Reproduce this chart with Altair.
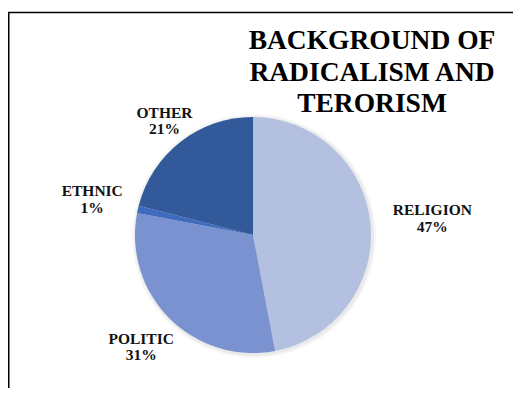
import altair as alt
import pandas as pd

categories = ["RELIGION", "POLITIC", "ETHNIC", "OTHER"]
percents = [47, 31, 1, 21]
colors = ["#b4c0e0", "#7a92d0", "#3f6bbf", "#32599a"]
title_lines = ["BACKGROUND OF", "RADICALISM AND", "TERORISM"]

df = pd.DataFrame({"category": categories, "pct": percents, "order": list(range(len(categories)))})

W, H = 505, 380
CX, CY, R = 245, 227, 118
FONT = "Liberation Serif"

base = alt.Chart(df).encode(
    theta=alt.Theta("pct:Q", stack=True),
    order=alt.Order("order:Q"),
)

shadow1 = base.mark_arc(outerRadius=R + 4, color="black", opacity=0.03).encode(
    x=alt.value(CX + 1), y=alt.value(CY + 1))
shadow2 = base.mark_arc(outerRadius=R + 2, color="black", opacity=0.05).encode(
    x=alt.value(CX + 1), y=alt.value(CY + 1))

pie = base.mark_arc(outerRadius=R).encode(
    color=alt.Color("category:N", scale=alt.Scale(domain=categories, range=colors), legend=None),
    x=alt.value(CX), y=alt.value(CY),
)

labels = alt.Chart(df).transform_joinaggregate(
    total="sum(pct)"
).transform_window(
    cum="sum(pct)", sort=[alt.SortField("order")], frame=[None, 0]
).transform_calculate(
    mid="2*PI*(datum.cum - datum.pct/2)/datum.total",
    labelR="122 + 7.3*length(datum.category)*abs(sin(datum.mid))",
    label="datum.category + '\\n' + datum.pct + '%'",
).mark_text(
    font=FONT, fontSize=15.5, fontWeight="bold", color="#111111",
    lineBreak="\n", lineHeight=16.5, align="center", baseline="middle", dy=-8,
).encode(
    theta=alt.Theta("mid:Q", scale=None),
    radius=alt.Radius("labelR:Q", scale=None),
    text=alt.Text("label:N"),
    x=alt.value(CX), y=alt.value(CY),
)

one = alt.Data(values=[{}])

title = alt.Chart(one).mark_text(
    text=title_lines, font=FONT, fontSize=27.5, fontWeight="bold", color="black",
    lineHeight=31.5, align="center", baseline="alphabetic",
).encode(x=alt.value(364), y=alt.value(41))

top_rule = alt.Chart(one).mark_rule(color="black", strokeWidth=1.5).encode(
    x=alt.value(0), x2=alt.value(W), y=alt.value(4.5))
left_rule = alt.Chart(one).mark_rule(color="black", strokeWidth=1.5).encode(
    x=alt.value(0.75), y=alt.value(4.5), y2=alt.value(H))

chart = alt.layer(shadow1, shadow2, pie, labels, title, top_rule, left_rule).properties(
    width=W, height=H, padding=0, autosize=alt.AutoSizeParams(type="none"), background="white",
).configure_view(stroke=None)

chart.save("out.html", embed_options={"renderer": "svg", "actions": False})
